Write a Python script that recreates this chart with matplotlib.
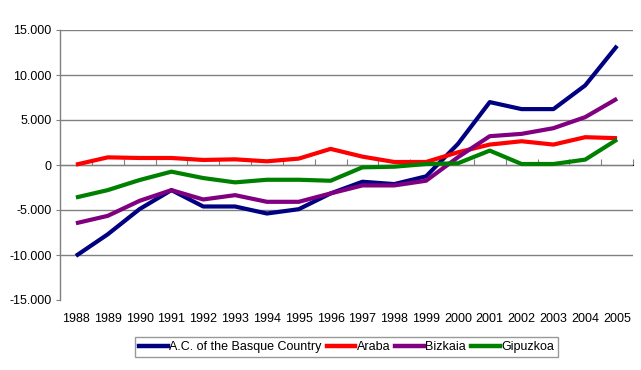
from matplotlib import pyplot as plt
from matplotlib.lines import Line2D

years = [str(y) for y in range(1988, 2006)]

basque = [-10100, -7700, -4900, -2790, -4610, -4610, -5390, -4910, -3160,
          -1860, -2120, -1260, 2340, 6990, 6210, 6210, 8850, 13240]
araba = [40, 850, 780, 780, 560, 630, 410, 710, 1790,
         930, 335, 335, 1410, 2270, 2640, 2270, 3090, 2980]
bizkaia = [-6470, -5650, -3980, -2790, -3830, -3350, -4090, -4090, -3160,
           -2270, -2270, -1750, 860, 3200, 3460, 4090, 5320, 7370]
gipuzkoa = [-3610, -2790, -1670, -740, -1450, -1930, -1640, -1640, -1750,
            -260, -190, 110, 190, 1600, 110, 110, 600, 2830]

series_names = ["A.C. of the Basque Country", "Araba", "Bizkaia", "Gipuzkoa"]
series_colors = ["#000080", "#FF0000", "#800080", "#008000"]

yticks = [-15000, -10000, -5000, 0, 5000, 10000, 15000]


def fmt(v):
    return f"{v:,.0f}".replace(",", ".")


def main():
    plt.rcParams['font.family'] = ['Liberation Sans', 'DejaVu Sans']
    fig = plt.figure(figsize=(6.41, 3.70), dpi=100)
    ax = fig.add_axes([60 / 641, 70 / 370, 573 / 641, 270 / 370])

    grey = "#808080"
    x = list(range(len(years)))

    # gridlines (none on the bottom -15.000 line)
    for v in yticks[1:]:
        ax.axhline(v, color=grey, lw=1, zorder=1)

    for vals, name, col in zip([basque, araba, bizkaia, gipuzkoa], series_names, series_colors):
        ax.plot(x, vals, color=col, lw=3, label=name, zorder=3,
                solid_joinstyle='round', solid_capstyle='butt')

    ax.set_xlim(-0.5, len(years) - 0.5)
    ax.set_ylim(-15000, 15000)

    for s in ['top', 'right', 'bottom']:
        ax.spines[s].set_visible(False)
    ax.spines['left'].set_color(grey)
    ax.spines['left'].set_linewidth(1)

    ax.set_yticks(yticks)
    ax.set_yticklabels([fmt(v) for v in yticks])
    ax.tick_params(axis='y', length=3, color=grey, labelsize=9, pad=3)

    ax.set_xticks(x)
    ax.set_xticklabels(years)
    ax.tick_params(axis='x', length=0, labelsize=9, pad=9)

    # category axis at zero with tick marks between categories
    sec = ax.secondary_xaxis(0.5)
    sec.set_xticks([i - 0.5 for i in range(len(years) + 1)])
    sec.set_xticklabels([])
    sec.tick_params(length=4, color=grey, direction='out')
    sec.spines['bottom'].set_color(grey)
    sec.spines['bottom'].set_linewidth(1)

    handles = [Line2D([], [], color=c, lw=3.2) for c in series_colors]
    leg = fig.legend(handles, series_names, loc='center',
                     bbox_to_anchor=(346.5 / 641, 1 - 347 / 370),
                     ncol=4, fontsize=9, frameon=True, fancybox=False,
                     edgecolor=grey, handlelength=2.3, handletextpad=0.1,
                     columnspacing=0.4, borderpad=0.3, borderaxespad=0)
    leg.get_frame().set_linewidth(1)

    fig.savefig("out.png", dpi=100)
    plt.close()


if __name__ == '__main__':
    main()
